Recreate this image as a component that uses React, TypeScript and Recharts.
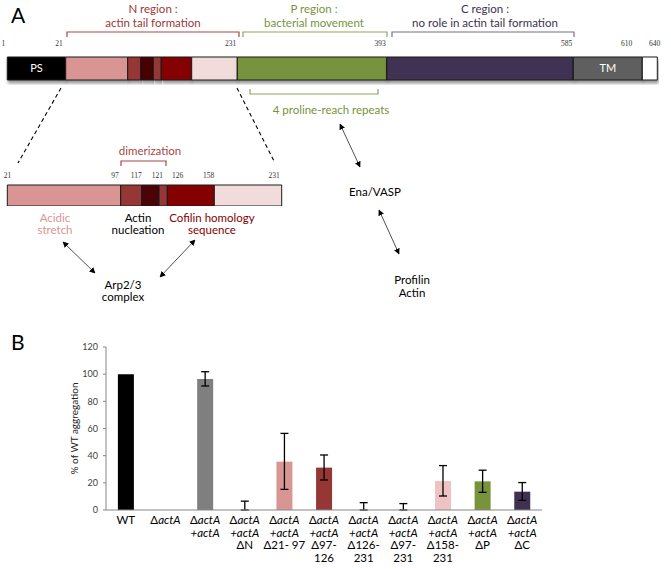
import React from 'react';
import { BarChart, Bar, XAxis, YAxis, Cell, ErrorBar, LabelList } from 'recharts';

// ---- panel A data: ActA domains, drawn widths as they appear in the figure (not to scale)
const proteinKeys = ['ps', 'n1', 'n2', 'n3', 'n4', 'n5', 'n6', 'p', 'c', 'tm', 'tail'];
const proteinWidths = [58.4, 62, 13, 12.6, 8, 30.4, 45.6, 149.4, 186.6, 69, 15];
const proteinBounds = ['1', '21', '', '', '', '', '', '231', '393', '585', '610', '640'];
const proteinColors = ['#000000', '#d99594', '#953735', '#4a0306', '#953735', '#850000', '#f2dcdb', '#77933c', '#403152', '#5f5f5f', '#ffffff'];
const proteinLabelShift = [-2, -3, 0, 0, 0, 0, 0, -1, -1, -1, -10, 3];

// zoom on the N region
const nKeys = ['n1', 'n2', 'n3', 'n4', 'n5', 'n6'];
const nWidths = [113.4, 21, 17.3, 8.3, 47, 67.4];
const nBounds = ['21', '97', '117', '121', '126', '158', '231'];
const nColors = ['#d99594', '#953735', '#4a0306', '#953735', '#850000', '#f2dcdb'];
const nLabelShift = [4, -2, 0, 4, 16, 0, -2];

// ---- panel B data (near-zero bars read as ~0)
const strains = [
  'WT',
  'ΔactA',
  'ΔactA\n+actA',
  'ΔactA\n+actA\nΔN',
  'ΔactA\n+actA\nΔ21- 97',
  'ΔactA\n+actA\nΔ97-\n126',
  'ΔactA\n+actA\nΔ126-\n231',
  'ΔactA\n+actA\nΔ97-\n231',
  'ΔactA\n+actA\nΔ158-\n231',
  'ΔactA\n+actA\nΔP',
  'ΔactA\n+actA\nΔC',
];
const aggregation = [100, 0, 96.5, 0.01, 35.6, 31.2, 0.01, 0.01, 21.3, 21.1, 13.5];
const errLow = [null, null, 5.2, 0, 20.4, 9.1, 0, 0, 11, 8.1, 6.4];
const errHigh = [null, null, 5.3, 6.5, 20.8, 9.3, 5.4, 4.7, 11.4, 8.2, 6.7];
const yTicks = [0, 20, 40, 60, 80, 100, 120];
const barColors = ['#000000', '#7f7f7f', '#7f7f7f', '#7f7f7f', '#d99594', '#953735', '#850000', '#4a0306', '#efc3c3', '#77933c', '#403152'];

const FONT = "Lato, 'Open Sans', sans-serif";

const cumulative = (ws: number[]) => {
  const out = [0];
  ws.forEach((w) => out.push(out[out.length - 1] + w));
  return out;
};

const proteinRow = [Object.fromEntries([['name', 'actA'], ...proteinKeys.map((k, i) => [k, proteinWidths[i]])])];
const proteinTicks = cumulative(proteinWidths);
const proteinTotal = proteinTicks[proteinTicks.length - 1];

const nRow = [Object.fromEntries([['name', 'N'], ...nKeys.map((k, i) => [k, nWidths[i]])])];
const nTicks = cumulative(nWidths);
const nTotal = nTicks[nTicks.length - 1];

const strainData = strains.map((s, i) => ({
  strain: s,
  value: aggregation[i],
  err: errHigh[i] == null ? null : [errLow[i], errHigh[i]],
}));

// boundary numbers above the domain bars
const makeBoundTick = (labels: string[], shifts: number[], lift: number) => (props: any) => {
  const { x, y, index } = props;
  const txt = labels[index];
  if (!txt) return <g />;
  return (
    <text x={x + shifts[index]} y={y - lift} textAnchor="end" fontSize={7.5} fill="#333" fontFamily="'Liberation Serif', serif">
      {txt}
    </text>
  );
};

const lineParts = (ln: string) => {
  if (ln === 'ΔactA') return [<tspan key="d">Δ</tspan>, <tspan key="a" fontStyle="italic">actA</tspan>];
  if (ln === '+actA') return [<tspan key="p" fontStyle="italic">+actA</tspan>];
  return [<tspan key="t">{ln}</tspan>];
};

const StrainTick = (props: any) => {
  const { x, y, payload } = props;
  const lines = String(payload.value).split('\n');
  return (
    <text x={x} y={y} textAnchor="middle" fontSize={11.5} fill="#000" fontFamily={FONT}>
      {lines.map((ln, i) => (
        <tspan key={i} x={x} dy={i === 0 ? 14 : 12.5}>
          {lineParts(ln)}
        </tspan>
      ))}
    </text>
  );
};

const bracketDown = (x1: number, x2: number, y: number) => `M${x1},${y + 5} L${x1},${y} L${x2},${y} L${x2},${y + 5}`;
const bracketUp = (x1: number, x2: number, y: number) => `M${x1},${y - 5} L${x1},${y} L${x2},${y} L${x2},${y - 5}`;

const Annotations = () => (
  <svg width={671} height={569} style={{ position: 'absolute', left: 0, top: 0, pointerEvents: 'none' }} fontFamily={FONT}>
    <defs>
      <marker id="ah" viewBox="0 0 10 10" refX="9" refY="5" markerWidth="6" markerHeight="6" markerUnits="userSpaceOnUse" orient="auto-start-reverse">
        <path d="M0,0 L10,5 L0,10 z" fill="#000" />
      </marker>
      <filter id="barShadow" x="-5%" y="-20%" width="110%" height="160%">
        <feDropShadow dx="1" dy="3" stdDeviation="1.4" floodColor="#000" floodOpacity="0.4" />
      </filter>
    </defs>
    <text x={11} y={23} fontSize={21} fill="#000">A</text>
    <text x={11} y={350} fontSize={21} fill="#000">B</text>

    {/* region titles */}
    <g fontSize={11.5} textAnchor="middle">
      <text x={153} y={13} fill="#9c3736">N region :</text>
      <text x={153} y={27} fill="#9c3736">actin tail formation</text>
      <text x={314} y={13} fill="#77933c">P region :</text>
      <text x={314} y={27} fill="#77933c">bacterial movement</text>
      <text x={485} y={13} fill="#403152">C region :</text>
      <text x={485} y={27} fill="#403152">no role in actin tail formation</text>
    </g>
    <path d={bracketDown(67, 239, 32)} fill="none" stroke="#a84745" strokeWidth={1.2} />
    <path d={bracketDown(243, 387, 32)} fill="none" stroke="#8ea65a" strokeWidth={1.2} />
    <path d={bracketDown(392, 574, 32)} fill="none" stroke="#776f92" strokeWidth={1.2} />

    <path d={bracketUp(250, 378, 94)} fill="none" stroke="#8ea65a" strokeWidth={1.2} />
    <text x={331} y={114} fontSize={11.5} textAnchor="middle" fill="#77933c">4 proline-reach repeats</text>

    {/* zoom guides */}
    <line x1={61} y1={88} x2={18} y2={163} stroke="#000" strokeWidth={1.1} strokeDasharray="4 3" />
    <line x1={237} y1={88} x2={275} y2={163} stroke="#000" strokeWidth={1.1} strokeDasharray="4 3" />

    <path d={bracketDown(121, 166, 161)} fill="none" stroke="#a84745" strokeWidth={1.2} />
    <text x={150} y={155} fontSize={11.5} textAnchor="middle" fill="#a84745">dimerization</text>

    <g fontSize={11.5} textAnchor="middle">
      <text x={55} y={222} fill="#d99594">Acidic</text>
      <text x={55} y={234} fill="#d99594">stretch</text>
      <text x={138} y={222} fill="#000">Actin</text>
      <text x={138} y={234} fill="#000">nucleation</text>
      <text x={212} y={222} fill="#850000">Cofilin homology</text>
      <text x={212} y={234} fill="#850000">sequence</text>
      <text x={123} y={289} fill="#000">Arp2/3</text>
      <text x={123} y={301} fill="#000">complex</text>
      <text x={375} y={196} fill="#000">Ena/VASP</text>
      <text x={412} y={284} fill="#000">Profilin</text>
      <text x={412} y={297} fill="#000">Actin</text>
    </g>

    <g stroke="#222" strokeWidth={0.8} markerStart="url(#ah)" markerEnd="url(#ah)">
      <line x1={63} y1={242} x2={95} y2={273} />
      <line x1={195} y1={240} x2={160} y2={277} />
      <line x1={340} y1={124} x2={360} y2={167} />
      <line x1={379} y1={210} x2={399} y2={254} />
    </g>
  </svg>
);

export default function App() {
  return (
    <div style={{ position: 'relative', width: 671, height: 569, background: '#fff', overflow: 'hidden' }}>
      <style>{'body{margin:0}'}</style>

      {/* full-length ActA */}
      <div style={{ position: 'absolute', left: 0, top: 33 }}>
        <BarChart layout="vertical" width={671} height={52} data={proteinRow} barCategoryGap={0} margin={{ top: 0, right: 671 - 7.3 - proteinTotal, bottom: 5, left: 7.3 }}>
          <XAxis
            type="number"
            orientation="top"
            domain={[0, proteinTotal]}
            ticks={proteinTicks}
            interval={0}
            height={24}
            axisLine={false}
            tickLine={false}
            tickSize={0}
            tickMargin={0}
            tick={makeBoundTick(proteinBounds, proteinLabelShift, 11)}
          />
          <YAxis type="category" dataKey="name" hide />
          {proteinKeys.map((k, i) => (
            <Bar key={k} dataKey={k} stackId="a" fill={proteinColors[i]} stroke="#1a1a1a" strokeWidth={1} filter="url(#barShadow)" isAnimationActive={false}>
              {k === 'ps' && <LabelList position="center" formatter={() => 'PS'} fill="#fff" fontSize={11} fontFamily={FONT} />}
              {k === 'tm' && <LabelList position="center" formatter={() => 'TM'} fill="#fff" fontSize={11} fontFamily={FONT} />}
            </Bar>
          ))}
        </BarChart>
      </div>

      {/* zoom on the N region */}
      <div style={{ position: 'absolute', left: 0, top: 161 }}>
        <BarChart layout="vertical" width={300} height={45} data={nRow} barCategoryGap={0} margin={{ top: 0, right: 300 - 7.3 - nTotal, bottom: 0, left: 7.3 }}>
          <XAxis
            type="number"
            orientation="top"
            domain={[0, nTotal]}
            ticks={nTicks}
            interval={0}
            height={24}
            axisLine={false}
            tickLine={false}
            tickSize={0}
            tickMargin={0}
            tick={makeBoundTick(nBounds, nLabelShift, 7)}
          />
          <YAxis type="category" dataKey="name" hide />
          {nKeys.map((k, i) => (
            <Bar key={k} dataKey={k} stackId="a" fill={nColors[i]} stroke="#1a1a1a" strokeWidth={1} isAnimationActive={false} />
          ))}
        </BarChart>
      </div>

      {/* panel B */}
      <div style={{ position: 'absolute', left: 0, top: 300 }}>
        <BarChart width={671} height={269} data={strainData} barCategoryGap="30%" margin={{ top: 47, right: 129, bottom: 0, left: 0 }}>
          <XAxis
            dataKey="strain"
            height={59}
            interval={0}
            axisLine={{ stroke: '#868686' }}
            tickLine={false}
            tickSize={0}
            tickMargin={0}
            tick={<StrainTick />}
          />
          <YAxis
            width={106}
            domain={[0, 120]}
            ticks={yTicks}
            interval={0}
            axisLine={{ stroke: '#868686' }}
            tickLine={{ stroke: '#868686' }}
            tickSize={3}
            tickMargin={5}
            tick={{ fontSize: 9, fill: '#404040', fontFamily: FONT }}
            label={{ value: '% of WT aggregation', angle: -90, position: 'center', dx: 21, fontSize: 10, fill: '#222', fontFamily: FONT }}
          />
          <Bar dataKey="value" isAnimationActive={false}>
            {strainData.map((d, i) => (
              <Cell key={d.strain} fill={barColors[i]} />
            ))}
            <ErrorBar dataKey="err" width={4} stroke="#000" strokeWidth={1.3} />
          </Bar>
        </BarChart>
      </div>

      <Annotations />
    </div>
  );
}
